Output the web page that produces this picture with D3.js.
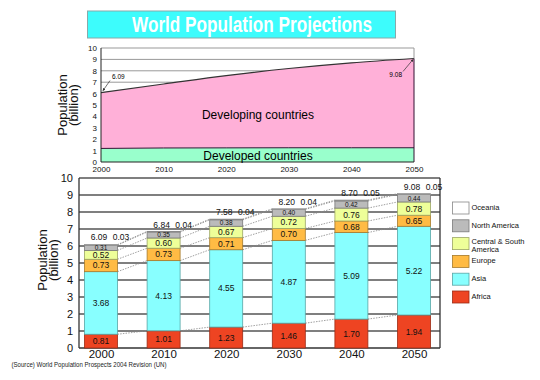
<!DOCTYPE html>
<meta charset="utf-8">
<style>
body { margin: 0; background: #fff; }
svg { display: block; font-family: "Liberation Sans", Arial, sans-serif; }
</style>
<body>
<svg id="chart" width="540" height="380"></svg>
<script src="https://cdn.jsdelivr.net/npm/d3@7/dist/d3.min.js"></script>
<script>

var years = [2000, 2010, 2020, 2030, 2040, 2050]
var regions = ['Africa', 'Asia', 'Europe', 'Central & South America', 'North America', 'Oceania']
var africa = [0.81, 1.01, 1.23, 1.46, 1.70, 1.94]
var asia = [3.68, 4.13, 4.55, 4.87, 5.09, 5.22]
var europe = [0.73, 0.73, 0.71, 0.70, 0.68, 0.65]
var latam = [0.52, 0.60, 0.67, 0.72, 0.76, 0.78]
var northAmerica = [0.31, 0.35, 0.38, 0.40, 0.42, 0.44]
var oceania = [0.03, 0.04, 0.04, 0.04, 0.05, 0.05]
var totals = [6.09, 6.84, 7.58, 8.20, 8.70, 9.08]
var developed = [1.19, 1.23, 1.24, 1.25, 1.25, 1.25]
var yTicks = [0, 1, 2, 3, 4, 5, 6, 7, 8, 9, 10]

var colors = {
  'Africa': '#ee4422',
  'Asia': '#88ffff',
  'Europe': '#ffbb44',
  'Central & South America': '#eeff99',
  'North America': '#bbbbbb',
  'Oceania': '#ffffff'
}

var rows = years.map(function(y, i){
  return {year: y, 'Africa': africa[i], 'Asia': asia[i], 'Europe': europe[i],
    'Central & South America': latam[i], 'North America': northAmerica[i],
    'Oceania': oceania[i], total: totals[i], developed: developed[i]}
})

var svg = d3.select('#chart')

// title banner
svg.append('rect').attr('x', 87.5).attr('y', 11).attr('width', 308).attr('height', 27)
    .attr('fill', '#3dfcfc').attr('stroke', '#88aaaa').attr('stroke-width', 1)
svg.append('text').attr('x', 132).attr('y', 32)
    .attr('textLength', 240).attr('lengthAdjust', 'spacingAndGlyphs')
    .style('font-family', '"Liberation Sans Narrow", "Liberation Sans", Arial, sans-serif')
    .style('font-weight', 'bold').style('font-size', '22px').attr('fill', '#fff')
    .text('World Population Projections')

var x = d3.scaleLinear().domain([2000, 2050]).range([101, 414])

// ---- top chart
var yT = d3.scaleLinear().domain([0, 10]).range([162, 48])
var topG = svg.append('g')

topG.selectAll('.grid').data(yTicks.slice(1)).enter().append('line')
    .attr('x1', 101).attr('x2', 414)
    .attr('y1', function(d){ return yT(d) }).attr('y2', function(d){ return yT(d) })
    .attr('stroke', '#999').attr('stroke-width', 1)

topG.append('path').datum(rows)
    .attr('d', d3.area().x(function(d){ return x(d.year) })
      .y0(function(d){ return yT(d.developed) }).y1(function(d){ return yT(d.total) })
      .curve(d3.curveMonotoneX))
    .attr('fill', '#ffb0d8')
topG.append('path').datum(rows)
    .attr('d', d3.area().x(function(d){ return x(d.year) })
      .y0(yT(0)).y1(function(d){ return yT(d.developed) }))
    .attr('fill', '#99ffcc')
topG.append('path').datum(rows)
    .attr('d', d3.line().x(function(d){ return x(d.year) }).y(function(d){ return yT(d.total) })
      .curve(d3.curveMonotoneX))
    .attr('fill', 'none').attr('stroke', '#333').attr('stroke-width', 1.2)
topG.append('path').datum(rows)
    .attr('d', d3.line().x(function(d){ return x(d.year) }).y(function(d){ return yT(d.developed) }))
    .attr('fill', 'none').attr('stroke', '#331133').attr('stroke-width', 1)

topG.append('line').attr('x1', 101).attr('x2', 101).attr('y1', yT(10)).attr('y2', yT(0)).attr('stroke', '#222')
topG.append('line').attr('x1', 414).attr('x2', 414).attr('y1', yT(10)).attr('y2', yT(totals[5])).attr('stroke', '#999')
topG.append('line').attr('x1', 414).attr('x2', 414).attr('y1', yT(totals[5])).attr('y2', yT(0)).attr('stroke', '#331133')
topG.append('line').attr('x1', 101).attr('x2', 414).attr('y1', yT(0)).attr('y2', yT(0)).attr('stroke', '#222')

topG.append('g').attr('transform', 'translate(101,0)')
    .call(d3.axisLeft(yT).tickValues(yTicks).tickSize(0).tickPadding(4))
    .call(function(g){ g.select('.domain').remove() })
    .selectAll('text').style('font-size', '8px').style('font-family', '"Liberation Sans", Arial, sans-serif').attr('fill', '#111')

topG.append('g').attr('transform', 'translate(0,' + yT(0) + ')')
    .call(d3.axisBottom(x).tickValues(years).tickFormat(d3.format('d')).tickSize(0).tickPadding(4.5))
    .call(function(g){ g.select('.domain').remove() })
    .selectAll('text').style('font-size', '8px').style('font-family', '"Liberation Sans", Arial, sans-serif').attr('fill', '#111')

topG.append('text').attr('x', 258).attr('y', 119).attr('text-anchor', 'middle')
    .style('font-size', '12px').text('Developing countries')
topG.append('text').attr('x', 258).attr('y', 160).attr('text-anchor', 'middle')
    .style('font-size', '12px').text('Developed countries')

svg.append('defs').append('marker').attr('id', 'arr').attr('viewBox', '0 0 6 6')
    .attr('refX', 5).attr('refY', 3).attr('markerWidth', 4).attr('markerHeight', 4)
    .attr('orient', 'auto').append('path').attr('d', 'M0,0L6,3L0,6Z').attr('fill', '#333')

var p0 = [x(years[0]), yT(totals[0])], p5 = [x(years[5]), yT(totals[5])]
topG.append('line').attr('x1', p0[0] + 9).attr('y1', p0[1] - 12).attr('x2', p0[0] + 2).attr('y2', p0[1] - 2)
    .attr('stroke', '#333').attr('stroke-width', 0.7).attr('marker-end', 'url(#arr)')
topG.append('text').attr('x', p0[0] + 11).attr('y', p0[1] - 14).style('font-size', '6.5px').text(totals[0].toFixed(2))
topG.append('line').attr('x1', p5[0] - 11).attr('y1', p5[1] + 13).attr('x2', p5[0] - 1).attr('y2', p5[1] + 1)
    .attr('stroke', '#333').attr('stroke-width', 0.7).attr('marker-end', 'url(#arr)')
topG.append('text').attr('x', p5[0] - 12).attr('y', p5[1] + 19).attr('text-anchor', 'end')
    .style('font-size', '6.5px').text(totals[5].toFixed(2))

function yTitle(g, cx, cy, gap){
  var t = g.append('text').attr('transform', 'translate(' + cx + ',' + cy + ') rotate(-90)')
      .attr('text-anchor', 'middle').style('font-size', '13px').attr('fill', '#111')
  t.append('tspan').attr('x', 0).attr('y', 0).text('Population')
  t.append('tspan').attr('x', 0).attr('y', gap).text('(billion)')
}
yTitle(svg, 67, 105, 11)

// ---- bottom chart
var yB = d3.scaleLinear().domain([0, 10]).range([348, 178])
var bw = 33
var bot = svg.append('g')

bot.selectAll('.grid').data(yTicks.slice(1)).enter().append('line')
    .attr('x1', 79).attr('x2', 440)
    .attr('y1', function(d){ return yB(d) }).attr('y2', function(d){ return yB(d) })
    .attr('stroke', '#555').attr('stroke-width', 1.3)
bot.append('line').attr('x1', 79).attr('x2', 79).attr('y1', yB(10)).attr('y2', yB(0)).attr('stroke', '#333').attr('stroke-width', 1.3)
bot.append('line').attr('x1', 440).attr('x2', 440).attr('y1', yB(10)).attr('y2', yB(0)).attr('stroke', '#333').attr('stroke-width', 1.3)
bot.append('line').attr('x1', 79).attr('x2', 440).attr('y1', yB(0)).attr('y2', yB(0)).attr('stroke', '#333').attr('stroke-width', 1.3)

var series = d3.stack().keys(regions)(rows)

// dotted connectors
series.forEach(function(s){
  for (var i = 0; i < years.length - 1; i++) {
    bot.append('line')
        .attr('x1', x(years[i]) + bw / 2).attr('y1', yB(s[i][1]))
        .attr('x2', x(years[i + 1]) - bw / 2).attr('y2', yB(s[i + 1][1]))
        .attr('stroke', '#888').attr('stroke-width', 0.8).attr('stroke-dasharray', '1.5,1.2')
  }
})

series.forEach(function(s){
  bot.selectAll(null).data(s).enter().append('rect')
      .attr('x', function(d){ return x(d.data.year) - bw / 2 })
      .attr('width', bw)
      .attr('y', function(d){ return yB(d[1]) })
      .attr('height', function(d){ return yB(d[0]) - yB(d[1]) })
      .attr('fill', colors[s.key])
      .attr('stroke', s.key === 'Oceania' ? '#888' : d3.color(colors[s.key]).darker(1.2))
      .attr('stroke-width', 0.8)
})

series.forEach(function(s){
  if (s.key === 'Oceania') return
  var small = s.key === 'North America'
  bot.selectAll(null).data(s).enter().append('text')
      .attr('x', function(d){ return x(d.data.year) })
      .attr('y', function(d){ return (yB(d[0]) + yB(d[1])) / 2 + (small ? 2.3 : 3) })
      .attr('text-anchor', 'middle')
      .style('font-size', small ? '6.5px' : '8.5px').attr('fill', '#111')
      .text(function(d){ return d.data[s.key].toFixed(2) })
})

bot.selectAll('.tot').data(rows).enter().append('text')
    .attr('x', function(d){ return x(d.year) - 2 })
    .attr('y', function(d){ return yB(d.total) - 4 })
    .attr('text-anchor', 'middle').style('font-size', '8.5px').attr('fill', '#111')
    .text(function(d){ return d.total.toFixed(2) })
bot.selectAll('.oce').data(rows).enter().append('text')
    .attr('x', function(d){ return x(d.year) + 20 })
    .attr('y', function(d){ return yB(d.total) - 4 })
    .attr('text-anchor', 'middle').style('font-size', '8.5px').attr('fill', '#111')
    .text(function(d){ return d['Oceania'].toFixed(2) })

bot.append('g').attr('transform', 'translate(79,0)')
    .call(d3.axisLeft(yB).tickValues(yTicks).tickSize(0).tickPadding(6))
    .call(function(g){ g.select('.domain').remove() })
    .selectAll('text').style('font-size', '11px').style('font-family', '"Liberation Sans", Arial, sans-serif').attr('fill', '#111')

bot.append('g').attr('transform', 'translate(0,' + yB(0) + ')')
    .call(d3.axisBottom(x).tickValues(years).tickFormat(d3.format('d')).tickSize(0).tickPadding(2))
    .call(function(g){ g.select('.domain').remove() })
    .selectAll('text').style('font-size', '11.5px').style('font-family', '"Liberation Sans", Arial, sans-serif').attr('fill', '#111')

yTitle(svg, 47, 260, 11)

// legend
var legend = svg.append('g').attr('transform', 'translate(452.5,202)')
var legendOrder = regions.slice().reverse()
var li = legend.selectAll('g').data(legendOrder).enter().append('g')
    .attr('transform', function(d, i){ return 'translate(0,' + i * 17.8 + ')' })
li.append('rect').attr('width', 16.5).attr('height', 12)
    .attr('fill', function(d){ return colors[d] })
    .attr('stroke', function(d){ return d === 'Oceania' ? '#888' : d3.color(colors[d]).darker(1.2) })
    .attr('stroke-width', 0.8)
li.append('text').attr('x', 19).attr('y', 8).style('font-size', '7.5px').attr('fill', '#111')
    .each(function(d){
      var t = d3.select(this)
      if (d === 'Central & South America') {
        t.append('tspan').attr('x', 19).attr('y', 6).text('Central & South')
        t.append('tspan').attr('x', 19).attr('y', 14).text('America')
      } else {
        t.text(d)
      }
    })

svg.append('text').attr('x', 11.5).attr('y', 367)
    .attr('textLength', 155).attr('lengthAdjust', 'spacingAndGlyphs')
    .style('font-size', '6.5px').attr('fill', '#222')
    .text('(Source) World Population Prospects 2004 Revision (UN)')

</script>
</body>
